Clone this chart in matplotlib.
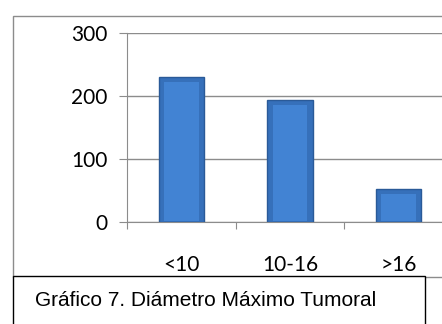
import matplotlib
matplotlib.use("Agg")
import matplotlib.pyplot as plt
from matplotlib.patches import Rectangle

# data
categories = ["<10", "10-16", ">16"]
counts = [230, 193, 52]
yticks = [0, 100, 200, 300]
caption = "Gráfico 7. Diámetro Máximo Tumoral"

W, H = 442, 324
fig = plt.figure(figsize=(W / 100, H / 100), dpi=100)

# outer chart frame (runs off the right edge)
fig.patches.append(Rectangle((13 / W, 1 - 277 / H), 1.0, (277 - 16) / H,
                             transform=fig.transFigure, fill=False,
                             edgecolor="#8c8c8c", lw=1.0))

ax = fig.add_axes([127 / W, 1 - 222 / H, (453 - 127) / W, (222 - 33) / H])
x = [i + 0.5 for i in range(len(categories))]
ax.bar(x, counts, width=0.42, color="#3670ba", edgecolor="#2a5a98",
       linewidth=1.0, zorder=3)
# lighter inner face to hint at the bevel
ax.bar(x, [c - 10 for c in counts], bottom=2, width=0.32, color="#4283d3",
       linewidth=0, zorder=4)

ax.set_xlim(0, 3)
ax.set_ylim(0, 300)
ax.set_yticks(yticks)
ax.set_xticks([0, 1, 2, 3])
ax.set_xticklabels([])
ax.set_xticks(x, minor=True)
ax.set_xticklabels(categories, minor=True)
ax.tick_params(axis="x", which="minor", length=0, pad=24)
ax.tick_params(axis="x", which="major", length=5, color="#8c8c8c", direction="out")
ax.tick_params(axis="y", length=6, color="#8c8c8c", pad=8)
for lab in ax.get_xticklabels(minor=True) + ax.get_yticklabels():
    lab.set_fontfamily("Lato")
    lab.set_fontsize(15)
ax.grid(axis="y", color="#8c8c8c", lw=1.0, zorder=0)
for s in ["top", "right"]:
    ax.spines[s].set_visible(False)
for s in ["left", "bottom"]:
    ax.spines[s].set_color("#8c8c8c")
ax.set_facecolor("none")

# caption box
fig.patches.append(Rectangle((13 / W, -0.01), (425 - 13) / W, (324 - 276) / H + 0.01,
                             transform=fig.transFigure, facecolor="white",
                             edgecolor="black", lw=1.0, zorder=5))
fig.text(35 / W, 1 - 300 / H, caption, fontfamily="Liberation Sans",
         fontsize=15, va="center", ha="left", zorder=6)

fig.savefig("out.png", dpi=100)
